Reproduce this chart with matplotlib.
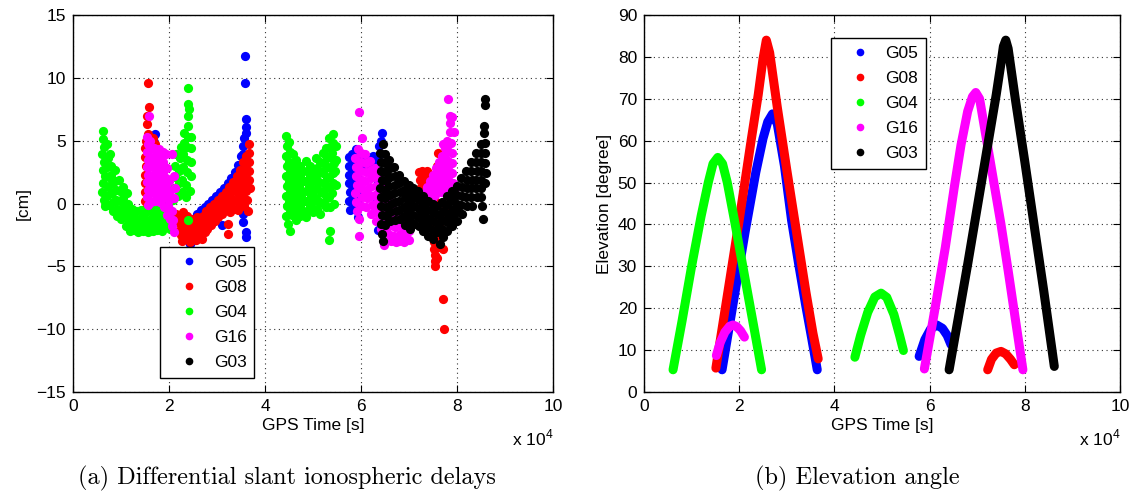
# %% GPS slant delays and elevation, two panels
import matplotlib
matplotlib.use('Agg')
import matplotlib.pyplot as plt
from matplotlib.lines import Line2D

plt.rcParams['font.family'] = ['Liberation Sans', 'DejaVu Sans']
plt.rcParams['mathtext.fontset'] = 'custom'
plt.rcParams['mathtext.rm'] = 'Liberation Sans'

# satellites in legend order and their colours
sats = ['G05', 'G08', 'G04', 'G16', 'G03']
colors = ['#0000ff', '#ff0000', '#00ff00', '#ff00ff', '#000000']

# differential slant delays: (GPS time / 1e4 s, delay cm)
dly_g05 = [
    (1.68, 4.9), (1.70, 5.5), (2.30, -2.4), (2.36, -2.6), (2.44, -3.2), (2.55, -2.9),
    (2.50, -1.2), (2.50, -2.0), (2.51, -2.8), (2.58, -0.8), (2.58, -1.5), (2.59, -2.2),
    (2.66, -0.5), (2.66, -1.2), (2.67, -1.9), (2.74, -0.3), (2.74, -1.0), (2.82, 0.0),
    (2.82, -0.7), (2.90, 0.3), (2.90, -0.4), (2.98, 0.6), (2.98, -0.1), (3.06, 0.9),
    (3.06, 0.2), (3.10, -1.7), (3.14, 1.2), (3.14, 0.5), (3.22, 1.6), (3.22, 0.9),
    (3.30, 2.0), (3.30, 1.3), (3.38, 2.5), (3.38, 1.8), (3.44, 3.1), (3.44, 2.3),
    (3.50, 3.8), (3.50, 3.0), (3.55, 4.6), (3.55, 3.9), (3.56, 5.2), (3.60, 5.6),
    (3.60, 6.1), (3.61, 6.7), (3.58, 9.6), (3.58, 11.7), (3.54, -1.5), (3.60, -2.3),
    (3.61, -2.7), (3.55, -0.8),
    (5.75, 3.7), (5.74, 3.0), (5.76, 2.3), (5.75, 1.6), (5.77, 0.9), (5.76, 0.2), (5.78, -0.5),
    (5.82, 3.9), (5.83, 3.2), (5.81, 2.5), (5.84, 1.8), (5.82, 1.1), (5.83, 0.4), (5.85, -0.3),
    (5.90, 4.3), (5.91, 3.6), (5.89, 2.9), (5.92, 2.2), (5.90, 1.5), (5.91, 0.8), (5.93, 0.1),
    (5.94, -1.1), (6.00, 3.9), (6.02, 3.2), (6.08, 3.6), (6.10, 2.8), (6.16, 3.4), (6.18, 2.6),
    (6.24, 3.8), (6.26, 3.0), (6.31, 3.5), (6.33, 2.7), (6.38, 4.6), (6.40, 3.9), (6.43, 5.6),
    (6.42, 5.0), (6.36, 1.8), (6.38, 0.9), (6.35, -2.1), (6.40, -0.4), (6.34, 0.2),
]
dly_g08 = [
    (1.57, 9.6), (1.58, 7.7), (1.55, 7.0), (1.54, 6.3), (1.56, 5.5), (1.53, 5.0), (1.51, 4.4),
    (1.50, 3.7), (1.52, 3.0), (1.50, 2.3), (1.51, 1.6), (1.49, 0.9), (1.51, 0.2), (1.50, -0.4),
    (1.71, 4.7), (1.66, 5.2),
    (2.15, -0.8), (2.17, -1.5), (2.20, -2.2), (2.22, -1.0), (2.24, -1.7), (2.26, -2.5),
    (2.28, -3.0), (2.30, -0.7), (2.32, -1.4), (2.34, -2.1), (2.36, -2.8), (2.38, -1.0),
    (2.40, -1.8), (2.42, -2.5), (2.44, -3.1), (2.46, -1.2), (2.48, -2.0), (2.50, -2.7),
    (2.52, -1.5), (2.54, -2.2), (2.56, -2.9), (2.58, -1.1), (2.60, -1.8), (2.62, -2.5),
    (2.64, -1.4), (2.66, -2.1), (2.68, -2.8), (2.70, -1.0), (2.72, -1.7), (2.74, -2.3),
    (2.78, -0.6), (2.78, -1.3), (2.79, -2.0), (2.86, -0.3), (2.86, -1.0), (2.87, -1.7),
    (2.94, 0.0), (2.94, -0.7), (2.95, -1.4), (3.02, 0.3), (3.02, -0.4), (3.03, -1.1),
    (3.10, 0.6), (3.10, -0.1), (3.11, -0.8), (3.18, 0.9), (3.18, 0.2), (3.19, -0.5),
    (3.26, 1.3), (3.26, 0.6), (3.27, -0.1), (3.27, -0.7), (3.34, 1.7), (3.34, 1.0),
    (3.35, 0.3), (3.35, -0.4), (3.42, 2.2), (3.42, 1.5), (3.43, 0.8), (3.43, 0.1),
    (3.43, -0.5), (3.48, 2.7), (3.48, 2.0), (3.49, 1.3), (3.49, 0.6), (3.49, -0.1),
    (3.54, 3.3), (3.54, 2.6), (3.55, 1.9), (3.55, 1.2), (3.55, 0.5), (3.56, -0.2),
    (3.60, 3.8), (3.60, 3.1), (3.61, 2.4), (3.61, 1.7), (3.61, 1.0), (3.62, 0.3),
    (3.66, 4.7), (3.66, 4.0), (3.67, 3.3), (3.67, 2.6), (3.67, 1.9), (3.68, 1.2),
    (3.23, -1.6), (3.23, -2.4), (3.65, -0.6),
    (7.20, 2.5), (7.22, 1.9), (7.24, 1.3), (7.26, 0.8), (7.28, 2.6), (7.30, 2.0), (7.32, 1.4),
    (7.40, 2.4), (7.42, 1.8), (7.38, 2.6), (7.36, 1.1), (7.60, 4.0), (7.58, 3.0), (7.55, 0.2),
    (7.50, -0.5), (7.48, -1.2), (7.52, -1.9), (7.50, -2.6), (7.53, -3.1), (7.52, -3.6),
    (7.55, -4.1), (7.54, -4.6), (7.55, -5.0), (7.58, -4.3), (7.60, -3.5), (7.62, -2.8),
    (7.63, -2.2), (7.71, -3.6), (7.71, -7.6), (7.73, -10.0), (7.65, -1.5), (7.70, -1.0),
    (7.75, -0.5),
]
dly_g04 = [
    (0.63, 5.8), (0.62, 5.1), (0.64, 4.5), (0.61, 3.9), (0.65, 3.3), (0.62, 2.7), (0.66, 2.2),
    (0.63, 1.6), (0.61, 0.9), (0.64, 0.3), (0.67, -0.2), (0.70, 4.7), (0.72, 3.6), (0.71, 2.9),
    (0.74, 2.1), (0.73, 1.3), (0.70, 0.6), (0.76, -0.1), (0.78, 3.9), (0.80, 3.0), (0.79, 2.3),
    (0.82, 1.6), (0.81, 0.8), (0.84, 0.1), (0.83, -0.6), (0.88, 2.7), (0.87, 1.8), (0.90, 1.1),
    (0.89, 0.3), (0.92, -0.4), (0.91, -1.0), (0.96, 1.9), (0.97, 1.0), (0.98, 0.2), (1.00, -0.6),
    (1.00, -1.2), (1.05, 1.3), (1.05, 0.4), (1.07, -0.3), (1.08, -1.1), (1.10, -1.8),
    (1.13, 0.8), (1.14, 0.0), (1.15, -0.7), (1.17, -1.4), (1.18, -2.2),
    (1.22, -0.4), (1.23, -1.0), (1.25, -1.6), (1.27, -2.1), (1.32, -0.6), (1.33, -1.2),
    (1.35, -1.8), (1.36, -2.3), (1.42, -0.5), (1.43, -1.1), (1.45, -1.7), (1.46, -2.2),
    (1.52, -0.7), (1.53, -1.3), (1.55, -1.9), (1.56, -2.3), (1.62, -0.6), (1.63, -1.2),
    (1.65, -1.8), (1.66, -2.2), (1.72, -0.3), (1.73, -0.9), (1.75, -1.5), (1.76, -2.1),
    (1.80, 0.4), (1.82, -0.4), (1.84, -1.0), (1.85, -1.6), (1.86, -2.2), (1.90, 0.2),
    (1.92, -0.5), (1.94, -1.2), (1.95, -1.8), (1.98, -0.1), (2.00, -0.8), (2.02, -1.4),
    (2.03, -2.0),
    (2.08, 0.3), (2.10, 1.2), (2.12, 2.1), (2.13, 3.0), (2.15, 3.9), (2.18, 0.6), (2.20, 1.6),
    (2.21, 2.6), (2.22, 3.6), (2.24, 4.5), (2.27, 0.9), (2.28, 1.9), (2.29, 2.9), (2.30, 3.9),
    (2.31, 4.8), (2.32, 5.6), (2.35, 0.5), (2.36, 1.5), (2.37, 2.5), (2.38, 3.5), (2.38, 4.5),
    (2.39, 5.3), (2.40, 6.2), (2.40, 7.0), (2.41, 7.5), (2.40, 9.2), (2.40, 7.9), (2.44, 1.0),
    (2.45, 2.2), (2.45, 3.3), (2.46, 4.4), (2.46, 5.3), (2.40, -1.3),
    (4.44, 5.4), (4.46, 4.6), (4.43, 3.8), (4.45, 3.0), (4.44, 2.2), (4.46, 1.4), (4.43, 0.6),
    (4.45, -0.2), (4.44, -1.0), (4.47, -1.6), (4.50, 4.9), (4.52, 4.1), (4.51, 3.3), (4.53, 2.5),
    (4.50, 1.7), (4.52, 0.9), (4.51, 0.1), (4.53, -0.7), (4.52, -2.2), (4.58, 3.9), (4.59, 3.1),
    (4.57, 2.3), (4.60, 1.5), (4.58, 0.7), (4.59, -0.1), (4.57, -0.9), (4.65, 3.5), (4.66, 2.7),
    (4.64, 1.9), (4.67, 1.1), (4.65, 0.3), (4.66, -0.5), (4.64, -1.3), (4.72, 3.0), (4.73, 2.2),
    (4.71, 1.4), (4.74, 0.6), (4.72, -0.2), (4.73, -1.0), (4.79, 2.6), (4.80, 1.8), (4.78, 1.0),
    (4.81, 0.2), (4.79, -0.6), (4.86, 3.4), (4.87, 2.6), (4.85, 1.8), (4.88, 1.0), (4.86, 0.2),
    (4.87, -0.6), (4.85, -1.1), (4.93, 3.0), (4.94, 2.2), (4.92, 1.4), (4.95, 0.6), (4.93, -0.2),
    (5.00, 2.6), (5.01, 1.8), (4.99, 1.0), (5.02, 0.2), (5.00, -0.7), (5.07, 3.6), (5.08, 2.8),
    (5.06, 2.0), (5.09, 1.2), (5.07, 0.4), (5.08, -0.4), (5.14, 3.3), (5.15, 2.5), (5.13, 1.7),
    (5.16, 0.9), (5.14, 0.1), (5.15, -0.8), (5.21, 4.0), (5.22, 3.2), (5.20, 2.4), (5.23, 1.6),
    (5.21, 0.8), (5.22, 0.0), (5.28, 4.4), (5.29, 3.6), (5.27, 2.8), (5.30, 2.0), (5.28, 1.2),
    (5.29, 0.4), (5.27, -0.3), (5.34, 5.2), (5.35, 4.5), (5.33, 3.7), (5.36, 2.9), (5.34, 2.1),
    (5.35, 1.3), (5.33, 0.5), (5.36, -0.3), (5.35, -2.2), (5.33, -2.9), (5.41, 5.5), (5.42, 4.8),
    (5.40, 4.0), (5.43, 3.2), (5.41, 2.4), (5.42, 1.6), (5.40, 0.8), (5.43, 0.0), (5.47, 4.6),
    (5.48, 3.5), (5.46, 2.6), (5.47, 1.5),
]
dly_g16 = [
    (1.58, 7.0), (1.55, 5.3), (1.57, 4.7), (1.54, 4.1), (1.56, 3.5), (1.55, 2.9), (1.57, 2.3),
    (1.54, 1.7), (1.56, 1.1), (1.55, 0.5), (1.57, -0.1), (1.61, 5.0), (1.62, 4.3), (1.63, 3.6),
    (1.61, 2.9), (1.62, 2.2), (1.64, 1.5), (1.62, 0.8), (1.63, 0.1), (1.68, 4.4), (1.69, 3.7),
    (1.67, 3.0), (1.70, 2.3), (1.68, 1.6), (1.69, 0.9), (1.70, 0.2), (1.74, 4.0), (1.75, 3.3),
    (1.73, 2.6), (1.76, 1.9), (1.74, 1.2), (1.75, 0.5), (1.80, 4.3), (1.81, 3.6), (1.82, 2.9),
    (1.80, 2.2), (1.81, 1.5), (1.83, 0.8), (1.82, 0.1), (1.87, 4.1), (1.88, 3.3), (1.87, 2.5),
    (1.89, 1.8), (1.88, 1.1), (1.90, 0.4), (1.89, -0.3), (1.94, 3.9), (1.95, 2.8), (1.94, 2.0),
    (1.96, 1.2), (1.95, 0.5), (1.97, -0.2), (1.96, -0.9), (2.01, 1.8), (2.02, 1.0), (2.01, 0.3),
    (2.03, -0.5), (2.02, -1.2), (2.07, -0.6), (2.08, -1.3), (2.10, -2.3), (2.06, -1.8),
    (2.06, 3.9), (2.10, 2.2), (2.12, 1.2), (2.11, 0.4),
    (5.96, 7.3), (6.02, 5.2), (5.94, 4.3), (5.88, 3.6), (5.90, 2.9), (5.89, 2.2), (5.91, 1.5),
    (5.88, 0.8), (5.90, 0.1), (5.92, -0.6), (5.96, -2.6), (5.95, -1.2), (6.00, 4.0), (6.01, 3.3),
    (6.00, 2.6), (6.02, 1.9), (6.01, 1.2), (6.03, 0.5), (6.02, -0.2), (6.09, 3.9), (6.10, 3.2),
    (6.11, 2.5), (6.09, 1.8), (6.10, 1.1), (6.12, 0.4), (6.11, -0.3), (6.19, 3.4), (6.20, 2.7),
    (6.21, 2.0), (6.19, 1.3), (6.20, 0.6), (6.22, -0.1), (6.21, -0.8), (6.29, 2.8), (6.30, 2.1),
    (6.31, 1.4), (6.29, 0.7), (6.30, 0.0), (6.32, -0.7), (6.31, -1.4), (6.39, 2.2), (6.40, 1.5),
    (6.41, 0.8), (6.39, 0.1), (6.40, -0.6), (6.42, -1.3), (6.41, -2.0), (6.49, 1.2), (6.50, 0.5),
    (6.51, -0.2), (6.49, -0.9), (6.50, -1.6), (6.52, -2.3), (6.48, -3.3), (6.59, 0.3),
    (6.60, -0.4), (6.61, -1.1), (6.59, -1.8), (6.60, -2.5), (6.62, -3.0), (6.69, -0.5),
    (6.70, -1.2), (6.71, -1.9), (6.69, -2.6), (6.72, -3.1), (6.79, -1.0), (6.80, -1.7),
    (6.81, -2.4), (6.79, -3.0), (6.89, -1.2), (6.90, -1.9), (6.91, -2.6), (6.90, -3.1),
    (6.99, -1.5), (7.00, -2.2), (7.01, -2.9),
    (7.25, 0.2), (7.28, -0.5), (7.32, 0.8), (7.35, 0.0), (7.38, 1.3), (7.40, 0.5), (7.44, 1.8),
    (7.46, 1.0), (7.48, 0.3), (7.50, 2.3), (7.52, 1.5), (7.54, 0.7), (7.56, 2.8), (7.58, 2.0),
    (7.60, 1.2), (7.62, 3.3), (7.64, 2.5), (7.66, 1.7), (7.66, 0.9), (7.68, 3.8), (7.70, 3.0),
    (7.72, 2.2), (7.72, 1.4), (7.74, 4.4), (7.76, 3.6), (7.77, 2.8), (7.78, 2.0), (7.78, 1.2),
    (7.80, 5.0), (7.81, 4.2), (7.82, 3.4), (7.83, 2.6), (7.83, 1.8), (7.84, 1.0), (7.85, 5.7),
    (7.86, 6.4), (7.85, 7.0), (7.81, 8.3), (7.88, 4.8), (7.89, 4.0), (7.90, 3.2), (7.90, 2.4),
    (7.92, 1.6), (7.95, 1.2), (7.93, 5.7), (7.90, 6.9), (7.71, 4.7),
]
dly_g03 = [
    (6.40, 4.0), (6.42, 3.3), (6.41, 2.6), (6.43, 1.9), (6.40, 1.2), (6.42, 0.5), (6.41, -0.2),
    (6.43, -0.9), (6.42, -1.6), (6.44, -2.4), (6.45, -3.0), (6.46, 4.7), (6.50, 3.9), (6.51, 3.2),
    (6.49, 2.5), (6.52, 1.8), (6.50, 1.1), (6.51, 0.4), (6.53, -0.3), (6.52, -1.0), (6.50, -1.7),
    (6.59, 3.5), (6.60, 2.8), (6.61, 2.1), (6.59, 1.4), (6.60, 0.7), (6.62, 0.0), (6.61, -0.7),
    (6.60, -1.4), (6.69, 2.9), (6.70, 2.2), (6.71, 1.5), (6.69, 0.8), (6.70, 0.1), (6.72, -0.6),
    (6.71, -1.3), (6.79, 2.3), (6.80, 1.6), (6.81, 0.9), (6.79, 0.2), (6.80, -0.5), (6.82, -1.2),
    (6.89, 1.8), (6.90, 1.1), (6.91, 0.4), (6.89, -0.3), (6.90, -1.0), (6.92, -1.7), (6.99, 1.5),
    (7.00, 0.8), (7.01, 0.1), (6.99, -0.6), (7.00, -1.3), (7.02, -2.0), (7.09, 1.2), (7.10, 0.5),
    (7.11, -0.2), (7.09, -0.9), (7.10, -1.6), (7.19, 1.0), (7.20, 0.3), (7.21, -0.4), (7.19, -1.1),
    (7.20, -1.8), (7.29, 0.6), (7.30, -0.1), (7.31, -0.8), (7.29, -1.5), (7.30, -2.2), (7.39, 0.2),
    (7.40, -0.5), (7.41, -1.2), (7.39, -1.9), (7.40, -2.6), (7.49, 0.0), (7.50, -0.7), (7.51, -1.4),
    (7.49, -2.1), (7.50, -2.8), (7.59, -0.2), (7.60, -0.9), (7.61, -1.6), (7.59, -2.3), (7.65, -3.2),
    (7.69, 0.1), (7.70, -0.6), (7.71, -1.3), (7.69, -2.0), (7.71, -2.7), (7.79, 0.6), (7.80, -0.1),
    (7.81, -0.8), (7.79, -1.5), (7.80, -2.2), (7.89, 1.0), (7.90, 0.3), (7.91, -0.4), (7.89, -1.1),
    (7.90, -1.8), (7.99, 1.4), (8.00, 0.7), (8.01, 0.0), (7.99, -0.7), (8.00, -1.4), (8.09, 2.0),
    (8.10, 1.3), (8.11, 0.6), (8.09, -0.1), (8.10, -0.8), (8.19, 2.6), (8.20, 1.9), (8.21, 1.2),
    (8.19, 0.5), (8.20, -0.2), (8.29, 3.3), (8.30, 2.6), (8.31, 1.9), (8.29, 1.2), (8.30, 0.5),
    (8.31, -0.2), (8.39, 4.0), (8.40, 3.3), (8.41, 2.6), (8.39, 1.9), (8.40, 1.2), (8.42, 0.5),
    (8.49, 4.7), (8.50, 4.0), (8.51, 3.3), (8.49, 2.6), (8.50, 1.9), (8.51, 1.2), (8.50, 0.5),
    (8.52, -0.2), (8.54, -1.2), (8.56, 5.6), (8.57, 6.2), (8.58, 4.8), (8.59, 4.0), (8.58, 3.2),
    (8.60, 2.4), (8.59, 1.6), (8.58, 7.8), (8.58, 8.3),
]

# elevation arcs: (GPS time / 1e4 s, elevation deg)
el_g05 = [
    [(1.64, 5.3), (1.9, 23), (2.13, 38.6), (2.35, 52.5), (2.5, 60.5), (2.6, 64.5), (2.7, 66.4),
     (2.8, 64), (2.95, 54), (3.1, 41), (3.25, 30.5), (3.4, 20.5), (3.52, 13), (3.64, 5.3)],
    [(5.78, 8.5), (5.9, 12.5), (6.02, 15), (6.15, 16), (6.27, 15.2), (6.37, 13.5), (6.45, 11.3)],
]
el_g08 = [
    [(1.51, 5.7), (1.75, 23), (2.0, 41), (2.25, 60), (2.4, 71), (2.5, 79.5), (2.57, 84),
     (2.64, 81), (2.8, 68), (3.0, 53), (3.2, 38.5), (3.4, 24), (3.55, 14), (3.66, 7.9)],
    [(7.22, 5.3), (7.3, 7.8), (7.4, 9.3), (7.5, 9.7), (7.6, 9.1), (7.7, 7.8), (7.78, 6.5)],
]
el_g04 = [
    [(0.61, 5.3), (0.8, 17), (1.0, 30), (1.2, 42), (1.35, 50), (1.45, 54.5), (1.55, 56),
     (1.65, 54.5), (1.75, 50), (1.9, 41), (2.1, 28.5), (2.3, 16), (2.47, 5.3)],
    [(4.43, 8.3), (4.55, 13.5), (4.7, 19), (4.85, 22.7), (4.98, 23.6), (5.1, 22.6),
     (5.25, 18.5), (5.37, 13.5), (5.45, 9.9)],
]
el_g16 = [
    [(1.52, 8.7), (1.6, 11.8), (1.7, 14.3), (1.8, 15.7), (1.87, 16), (1.95, 15.6),
     (2.03, 14.6), (2.11, 13.1)],
    [(5.89, 5.5), (6.1, 19), (6.33, 34.5), (6.52, 49), (6.66, 59), (6.8, 67), (6.9, 70.5),
     (6.97, 71.5), (7.05, 70), (7.17, 62), (7.35, 50), (7.5, 40), (7.65, 29), (7.8, 17.5),
     (7.96, 5.3)],
]
el_g03 = [
    [(6.41, 5.3), (6.6, 17.5), (6.8, 30.5), (7.0, 44), (7.2, 57.5), (7.4, 71), (7.5, 78.5),
     (7.55, 82.5), (7.6, 84), (7.65, 82), (7.8, 70), (8.0, 55), (8.2, 39.5), (8.4, 24),
     (8.62, 6.1)],
]

delays = [dly_g05, dly_g08, dly_g04, dly_g16, dly_g03]
elevs = [el_g05, el_g08, el_g04, el_g16, el_g03]

fig = plt.figure(figsize=(11.48, 4.95), dpi=100)
ax1 = fig.add_axes([73 / 1148, 103 / 495, 480 / 1148, 377 / 495])
ax2 = fig.add_axes([644 / 1148, 103 / 495, 476 / 1148, 377 / 495])

for pts, c in zip(delays, colors):
    ax1.scatter([p[0] for p in pts], [p[1] for p in pts], s=44, color=c,
                linewidths=0, zorder=3)

for arcs, c in zip(elevs, colors):
    for arc in arcs:
        ax2.plot([p[0] for p in arc], [p[1] for p in arc], color=c, lw=6.5,
                 solid_capstyle='round', solid_joinstyle='round', zorder=3)


def style(ax, ylim, yticks, ylabel):
    ax.set_xlim(0, 10)
    ax.set_ylim(*ylim)
    ax.set_xticks(range(0, 11, 2))
    ax.set_yticks(yticks)
    ax.grid(True, color='0.2', linestyle=(0, (1, 3.2)), linewidth=0.8)
    ax.tick_params(direction='in', top=True, right=True, length=5, width=0.8,
                   labelsize=12.5, pad=5)
    for s in ax.spines.values():
        s.set_linewidth(1.0)
    ax.set_xlabel('GPS Time [s]', fontsize=12.5, labelpad=3)
    ax.set_ylabel(ylabel, fontsize=12.5, labelpad=4)
    ax.text(1.0, -0.095, r'x 10$^{4}$', transform=ax.transAxes, ha='right',
            va='top', fontsize=12.5)


style(ax1, (-15, 15), range(-15, 16, 5), '[cm]')
style(ax2, (0, 90), range(0, 91, 10), 'Elevation [degree]')

handles = [Line2D([], [], marker='o', ls='none', color=c, markersize=4.5) for c in colors]
for ax, anchor, loc in [(ax1, (0.181, 0.037), 'lower left'), (ax2, (0.393, 0.939), 'upper left')]:
    leg = ax.legend(handles, sats, loc=loc, bbox_to_anchor=anchor, fontsize=12.5,
                    frameon=True, fancybox=False, framealpha=1, edgecolor='black',
                    borderpad=0.45, labelspacing=0.57, handlelength=2.4,
                    handletextpad=0.25, borderaxespad=0)
    leg.get_frame().set_linewidth(1.0)

fig.text(287 / 1148, 1 - 478 / 495, '(a) Differential slant ionospheric delays',
         family='cmr10', fontsize=17.5, ha='center', va='center')
fig.text(857 / 1148, 1 - 478 / 495, '(b) Elevation angle',
         family='cmr10', fontsize=17.5, ha='center', va='center')

fig.savefig('out.png', dpi=100)
